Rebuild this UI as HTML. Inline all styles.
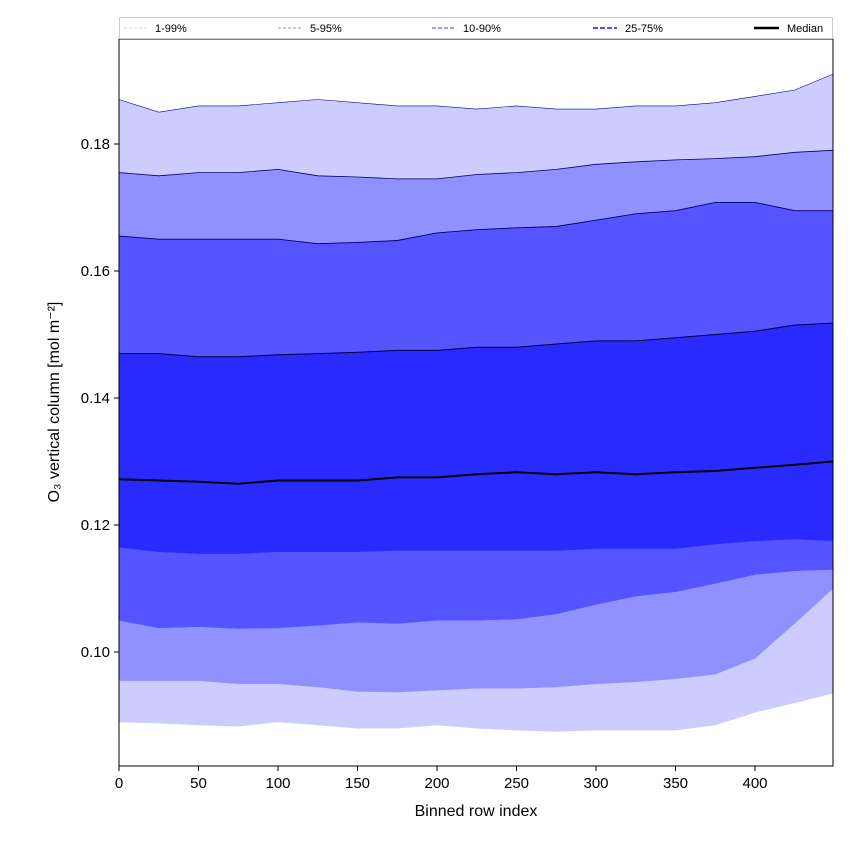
<!DOCTYPE html>
<html><head><meta charset="utf-8"><style>
body{margin:0;background:#fff}
svg text{font-family:"Liberation Sans","DejaVu Sans",sans-serif}
</style></head><body>
<svg id="c" width="850" height="850" xmlns="http://www.w3.org/2000/svg"></svg>
<script>
const xs=[0,25,50,75,100,125,150,175,200,225,250,275,300,325,350,375,400,425,449];
const p99=[0.187,0.185,0.186,0.186,0.1865,0.187,0.1865,0.186,0.186,0.1855,0.186,0.1855,0.1855,0.186,0.186,0.1865,0.1875,0.1885,0.191];
const p95=[0.1755,0.175,0.1755,0.1755,0.176,0.175,0.1748,0.1745,0.1745,0.1752,0.1755,0.176,0.1768,0.1772,0.1775,0.1777,0.178,0.1787,0.179];
const p90=[0.1655,0.165,0.165,0.165,0.165,0.1643,0.1645,0.1648,0.166,0.1665,0.1668,0.167,0.168,0.169,0.1695,0.1708,0.1708,0.1695,0.1695];
const p75=[0.147,0.147,0.1465,0.1465,0.1468,0.147,0.1472,0.1475,0.1475,0.148,0.148,0.1485,0.149,0.149,0.1495,0.15,0.1505,0.1515,0.1518];
const med=[0.1272,0.127,0.1268,0.1265,0.127,0.127,0.127,0.1275,0.1275,0.128,0.1283,0.128,0.1283,0.128,0.1283,0.1285,0.129,0.1295,0.13];
const p25=[0.1165,0.1158,0.1155,0.1155,0.1158,0.1158,0.1158,0.116,0.116,0.116,0.116,0.116,0.1163,0.1163,0.1163,0.117,0.1175,0.1178,0.1175];
const p10=[0.105,0.1038,0.104,0.1037,0.1038,0.1042,0.1047,0.1045,0.105,0.105,0.1052,0.106,0.1075,0.1088,0.1095,0.1108,0.1122,0.1128,0.113];
const p5=[0.0955,0.0955,0.0955,0.095,0.095,0.0945,0.0938,0.0937,0.094,0.0943,0.0943,0.0945,0.095,0.0953,0.0958,0.0965,0.099,0.1045,0.11];
const p1=[0.089,0.0888,0.0885,0.0883,0.089,0.0885,0.088,0.088,0.0885,0.088,0.0877,0.0875,0.0877,0.0877,0.0877,0.0885,0.0905,0.092,0.0935];
const xTicks=[0,50,100,150,200,250,300,350,400];
const yTicks=[0.10,0.12,0.14,0.16,0.18];
const L=119,R=833,T=39,B=766;
const X=v=>L+v*1.59;
const Y=v=>144-(v-0.18)*6350;
const svg=document.getElementById('c');
const NS='http://www.w3.org/2000/svg';
function mk(t,a,p){const e=document.createElementNS(NS,t);for(const k in a)e.setAttribute(k,a[k]);(p||svg).appendChild(e);return e;}
const line=a=>a.map((v,i)=>X(xs[i]).toFixed(1)+','+Y(v).toFixed(1)).join(' ');
function band(lo,hi,col,name){
  const pts=hi.map((v,i)=>X(xs[i])+','+Y(v)).concat(lo.map((v,i)=>X(xs[i])+','+Y(v)).reverse()).join(' ');
  const e=mk('polygon',{points:pts,fill:col});
  
  
}
band(p1,p99,'#ccccff','band-1-99');
band(p5,p95,'#9090ff','band-5-95');
band(p10,p90,'#5555ff','band-10-90');
band(p25,p75,'#2a2aff','band-25-75');
[[p99,'#0000aa',0.6],[p95,'#000066',0.8],[p90,'#000066',0.9],[p75,'#000044',1],[p25,'#2a2aff',0.5],[p10,'#5555ff',0.5],[p5,'#9090ff',0.5],[p1,'#ccccff',0.5]].forEach((s,i)=>{
  const e=mk('polyline',{points:line(s[0]),fill:'none',stroke:s[1],'stroke-width':s[2]});
  
  
});
const m=mk('polyline',{points:line(med),fill:'none',stroke:'#000','stroke-width':2});


const fr=mk('rect',{x:L,y:T,width:R-L,height:B-T,fill:'none',stroke:'#000','stroke-width':1});


xTicks.forEach(v=>{
  mk('line',{x1:X(v),x2:X(v),y1:B,y2:B+5,stroke:'#000'});
  const t=mk('text',{x:X(v),y:B+22,'text-anchor':'middle','font-size':15});
  t.textContent=v;
  
  
});
yTicks.forEach(v=>{
  mk('line',{x1:L-5,x2:L,y1:Y(v),y2:Y(v),stroke:'#000'});
  const t=mk('text',{x:L-9,y:Y(v)+5,'text-anchor':'end','font-size':15});
  t.textContent=v.toFixed(2);
  
  
});
</script>
<svg width="850" height="850" style="position:absolute;left:0;top:0" xmlns="http://www.w3.org/2000/svg">
<text x="476" y="816" text-anchor="middle" font-size="16">Binned row index</text>
<text transform="translate(59,402) rotate(-90)" text-anchor="middle" font-size="16">O₃ vertical column [mol m⁻²]</text>
<g>
<rect x="119.5" y="17.5" width="713" height="21" fill="#fff" stroke="#ccc"/>
<line x1="124" x2="148" y1="28" y2="28" stroke="#ccccff" stroke-width="1" stroke-dasharray="3,2"/>
<text x="155" y="32" font-size="11">1-99%</text>
<line x1="278" x2="302" y1="28" y2="28" stroke="#9090ff" stroke-width="1" stroke-dasharray="3,2"/>
<text x="310" y="32" font-size="11">5-95%</text>
<line x1="432" x2="456" y1="28" y2="28" stroke="#8080ff" stroke-width="1.5" stroke-dasharray="4,2"/>
<text x="463" y="32" font-size="11">10-90%</text>
<line x1="593" x2="617" y1="28" y2="28" stroke="#5050ff" stroke-width="2" stroke-dasharray="5,2"/>
<text x="625" y="32" font-size="11">25-75%</text>
<line x1="754" x2="779" y1="28" y2="28" stroke="#000" stroke-width="2.5"/>
<text x="787" y="32" font-size="11">Median</text>
</g>
</svg>
</body></html>
